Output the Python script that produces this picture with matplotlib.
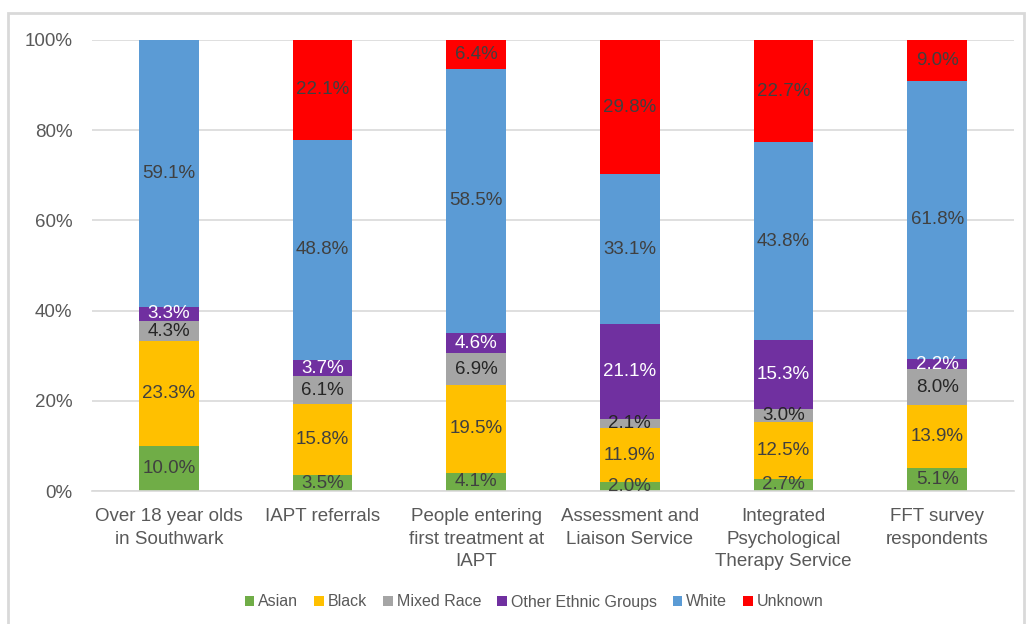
import numpy as np
import matplotlib.pyplot as plt
from matplotlib.patches import Rectangle

plt.rcParams['font.family'] = ['Liberation Sans', 'DejaVu Sans']

categories = ["Over 18 year olds\nin Southwark", "IAPT referrals",
              "People entering\nfirst treatment at\nIAPT", "Assessment and\nLiaison Service",
              "Integrated\nPsychological\nTherapy Service", "FFT survey\nrespondents"]
series = ["Asian", "Black", "Mixed Race", "Other Ethnic Groups", "White", "Unknown"]
asian = [10.0, 3.5, 4.1, 2.0, 2.7, 5.1]
black = [23.3, 15.8, 19.5, 11.9, 12.5, 13.9]
mixed = [4.3, 6.1, 6.9, 2.1, 3.0, 8.0]
other = [3.3, 3.7, 4.6, 21.1, 15.3, 2.2]
white = [59.1, 48.8, 58.5, 33.1, 43.8, 61.8]
unknown = [0.0, 22.1, 6.4, 29.8, 22.7, 9.0]

colors = ["#70AD47", "#FFC000", "#A5A5A5", "#7030A0", "#5B9BD5", "#FF0000"]
label_colors = ["#404040", "#404040", "#262626", "white", "#404040", "#404040"]

fig = plt.figure(figsize=(10.30, 6.24), dpi=100)
fig.patches.append(Rectangle((8 / 1030, -0.01), 1016 / 1030, 1 - 13 / 624 + 0.01,
                             transform=fig.transFigure, fill=False,
                             edgecolor="#D9D9D9", linewidth=2))
ax = fig.add_axes([92 / 1030, 1 - 491 / 624, 922 / 1030, 451 / 624])

x = np.arange(len(categories))
bottom = np.zeros(len(categories))
data = [asian, black, mixed, other, white, unknown]
for vals, name, col, lc in zip(data, series, colors, label_colors):
    vals = np.array(vals)
    ax.bar(x, vals, 0.39, bottom=bottom, color=col, label=name, zorder=2)
    for xi, v, b in zip(x, vals, bottom):
        if v > 0:
            ax.text(xi, b + v / 2, f"{v:.1f}%", ha="center", va="center",
                    fontsize=13.5, color=lc, zorder=3)
    bottom += vals

ax.set_xlim(-0.5, len(categories) - 0.5)
ax.set_ylim(0, 100)
ax.set_yticks(range(0, 101, 20))
ax.set_yticklabels([f"{t}%" for t in range(0, 101, 20)])
ax.set_xticks(x)
ax.set_xticklabels(categories, linespacing=1.45)
ax.grid(axis="y", color="#D9D9D9", linewidth=1.2, zorder=0)
for s in ["top", "right", "left"]:
    ax.spines[s].set_visible(False)
ax.spines["bottom"].set_color("#D9D9D9")
ax.spines["bottom"].set_linewidth(1.2)
ax.tick_params(axis="both", length=0, labelsize=13.5, labelcolor="#595959")
ax.tick_params(axis="x", pad=12)
ax.tick_params(axis="y", pad=14)

ax.legend(loc="center", bbox_to_anchor=(534 / 1030, 1 - 602 / 624),
          bbox_transform=fig.transFigure, ncol=6, frameon=False, fontsize=11.5,
          handlelength=0.6, handleheight=0.6, handletextpad=0.25,
          columnspacing=1.0, labelcolor="#595959")

fig.savefig("out.png", dpi=100)
